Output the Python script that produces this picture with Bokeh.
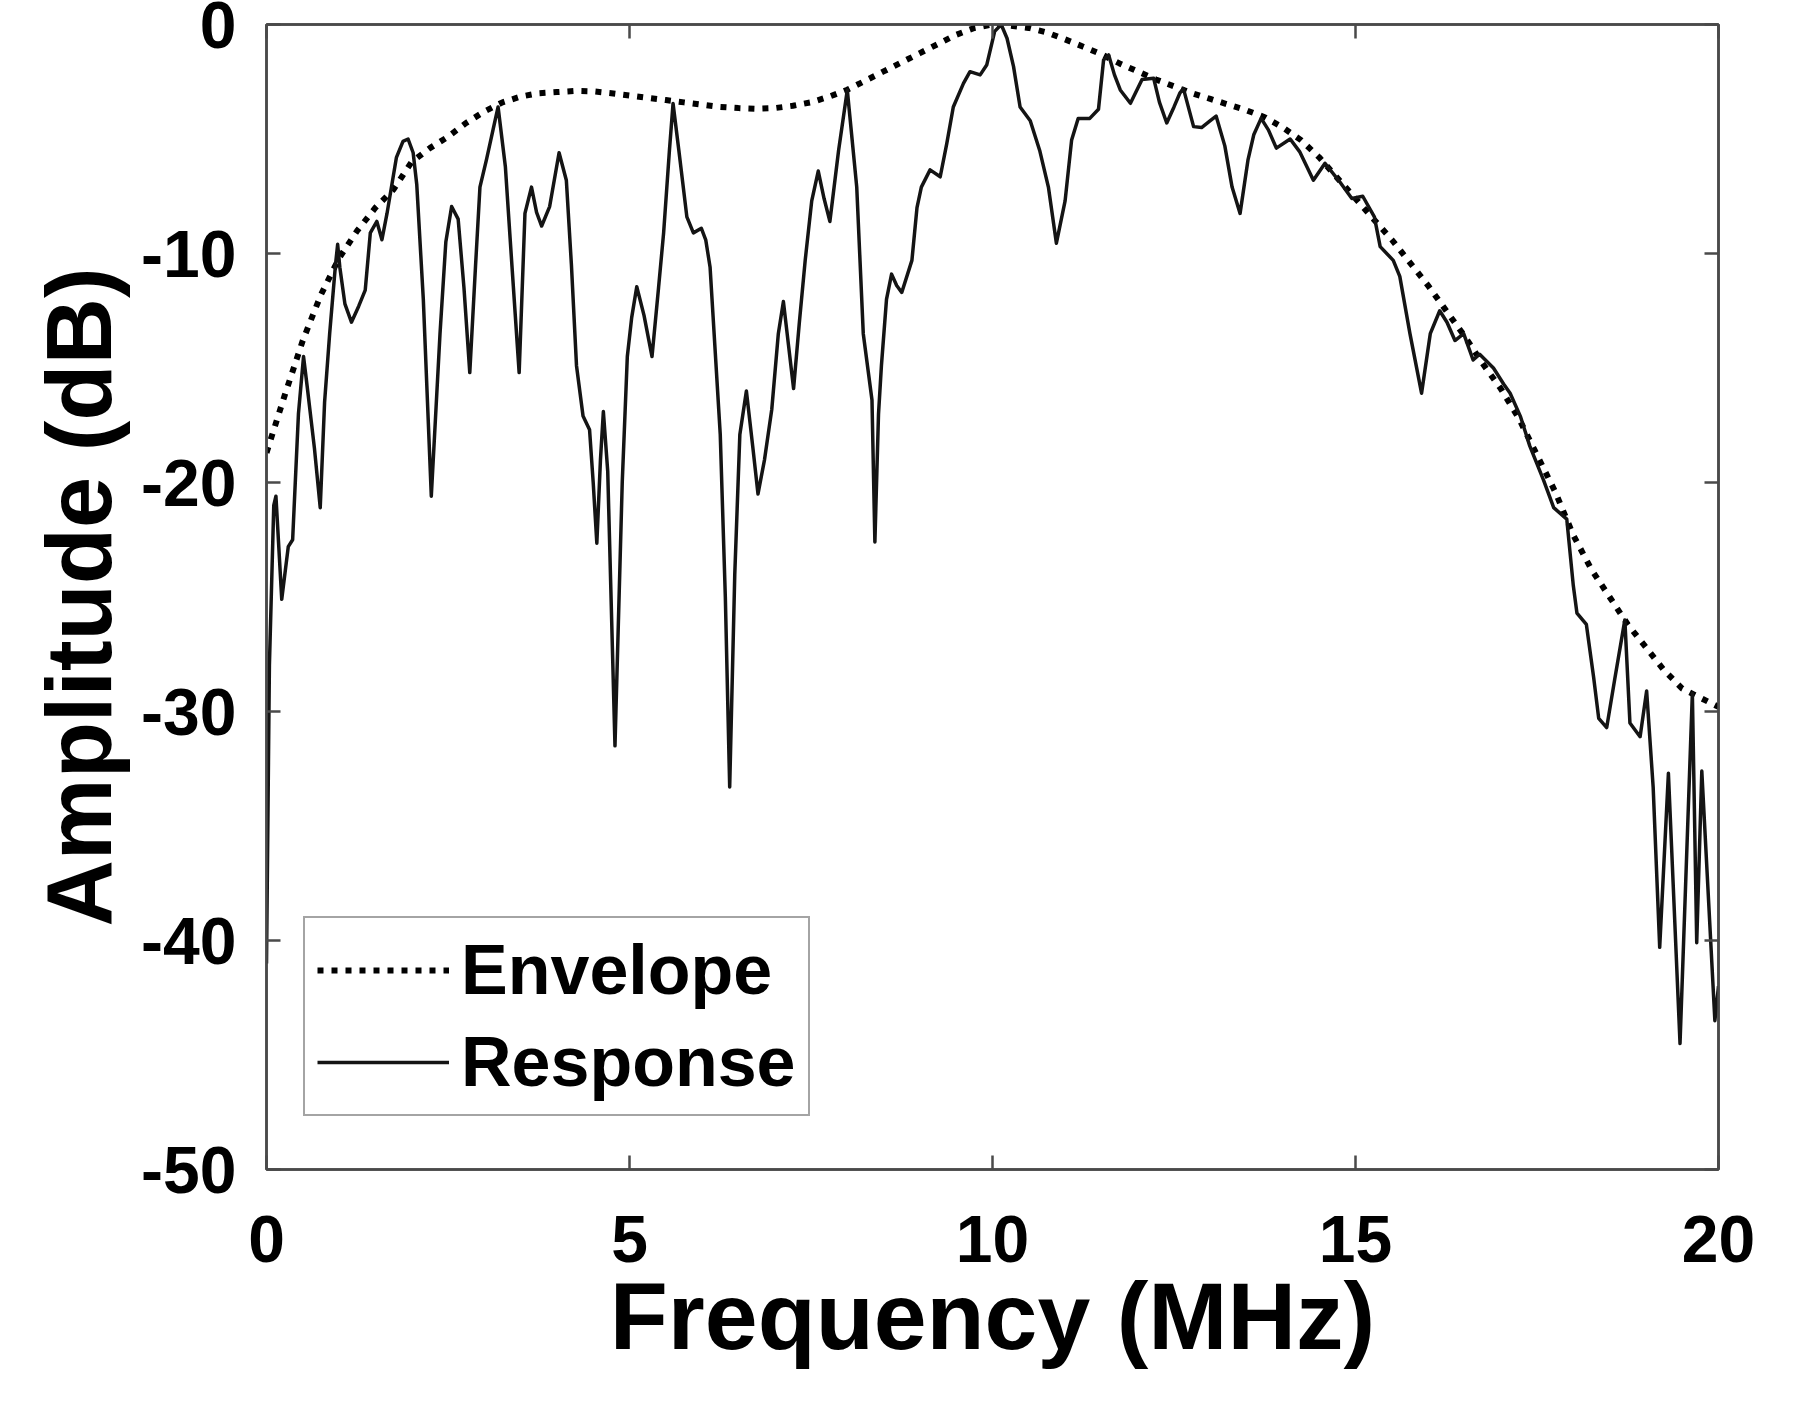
from bokeh.plotting import figure
from bokeh.models import Range1d, LinearAxis, FixedTicker, CustomJSTickFormatter, Legend, LegendItem
from bokeh.embed import file_html
from bokeh.resources import INLINE

# ---- data ----
env_f = [0.0, 0.25, 0.5, 0.75, 1.0, 1.25, 1.5, 1.75, 2.0, 2.25, 2.5, 2.75, 3.0, 3.25, 3.5, 3.75,
         4.0, 4.25, 4.5, 4.75, 5.0, 5.25, 5.5, 5.75, 6.0, 6.25, 6.5, 6.75, 7.0, 7.25, 7.5, 7.75,
         8.0, 8.25, 8.5, 8.75, 9.0, 9.25, 9.5, 9.75, 10.0, 10.25, 10.5, 10.75, 11.0, 11.25, 11.5,
         11.75, 12.0, 12.25, 12.5, 12.75, 13.0, 13.25, 13.5, 13.75, 14.0, 14.25, 14.5, 14.75, 15.0,
         15.25, 15.5, 15.75, 16.0, 16.25, 16.5, 16.75, 17.0, 17.25, 17.5, 17.75, 18.0, 18.25, 18.5,
         18.75, 19.0, 19.25, 19.5, 19.75, 20.0]
env_db = [-18.7, -16.2, -13.8, -11.8, -10.2, -9.0, -8.0, -7.2, -6.0, -5.4, -4.9, -4.3, -3.8, -3.4,
          -3.15, -3.0, -2.95, -2.9, -2.92, -3.0, -3.1, -3.2, -3.3, -3.4, -3.5, -3.6, -3.65, -3.68,
          -3.65, -3.55, -3.4, -3.15, -2.85, -2.45, -2.05, -1.65, -1.25, -0.85, -0.45, -0.15, 0.0,
          -0.05, -0.15, -0.35, -0.65, -0.97, -1.3, -1.7, -2.05, -2.4, -2.7, -3.0, -3.25, -3.5, -3.75,
          -4.05, -4.5, -5.05, -5.8, -6.7, -7.6, -8.5, -9.4, -10.4, -11.4, -12.5, -13.6, -14.8, -15.9,
          -17.2, -18.8, -20.4, -22.3, -23.8, -25.0, -26.2, -27.2, -28.2, -29.0, -29.4, -29.8]

resp_f = [0.0, 0.04, 0.10, 0.13, 0.21, 0.30, 0.36, 0.44, 0.51, 0.56, 0.66, 0.74, 0.80, 0.87, 0.95,
          0.98, 1.01, 1.08, 1.17, 1.27, 1.36, 1.43, 1.52, 1.59, 1.66, 1.79, 1.88, 1.95, 2.02, 2.07,
          2.16, 2.27, 2.39, 2.47, 2.55, 2.64, 2.72, 2.80, 2.88, 2.94, 3.03, 3.12, 3.19, 3.29, 3.38,
          3.48, 3.56, 3.65, 3.72, 3.79, 3.90, 4.03, 4.13, 4.20, 4.27, 4.36, 4.45, 4.50, 4.55, 4.60,
          4.64, 4.70, 4.80, 4.90, 4.97, 5.03, 5.10, 5.20, 5.31, 5.40, 5.47, 5.55, 5.60, 5.68, 5.79,
          5.88, 5.99, 6.05, 6.11, 6.25, 6.32, 6.38, 6.45, 6.52, 6.61, 6.70, 6.77, 6.86, 6.96, 7.05,
          7.12, 7.19, 7.26, 7.34, 7.42, 7.51, 7.60, 7.68, 7.76, 7.88, 8.00, 8.13, 8.22, 8.34, 8.38,
          8.43, 8.47, 8.54, 8.61, 8.68, 8.75, 8.89, 8.96, 9.02, 9.14, 9.28, 9.37, 9.46, 9.60, 9.69,
          9.83, 9.92, 10.03, 10.12, 10.20, 10.29, 10.38, 10.52, 10.65, 10.77, 10.88, 11.00, 11.09,
          11.18, 11.34, 11.46, 11.53, 11.60, 11.68, 11.76, 11.90, 12.06, 12.22, 12.30, 12.40, 12.50,
          12.58, 12.63, 12.77, 12.88, 13.00, 13.08, 13.20, 13.30, 13.41, 13.52, 13.60, 13.70, 13.80,
          13.91, 14.10, 14.23, 14.42, 14.58, 14.78, 14.95, 15.10, 15.26, 15.34, 15.52, 15.61, 15.75,
          15.91, 16.03, 16.16, 16.26, 16.37, 16.49, 16.62, 16.71, 16.90, 17.04, 17.13, 17.27, 17.40,
          17.59, 17.73, 17.91, 18.00, 18.05, 18.18, 18.28, 18.35, 18.46, 18.57, 18.71, 18.78, 18.92,
          19.01, 19.10, 19.19, 19.31, 19.47, 19.64, 19.70, 19.77, 19.95, 20.00]
resp_db = [-41.0, -28.0, -21.0, -20.6, -25.1, -22.8, -22.5, -17.0, -14.5, -15.8, -18.5, -21.1, -16.5,
           -13.5, -10.5, -9.6, -10.6, -12.2, -13.0, -12.3, -11.6, -9.1, -8.6, -9.4, -8.25, -5.8, -5.1,
           -5.0, -5.6, -7.0, -12.0, -20.6, -13.5, -9.5, -7.95, -8.5, -11.5, -15.2, -10.5, -7.1, -5.9,
           -4.6, -3.6, -6.2, -10.5, -15.2, -8.25, -7.1, -8.2, -8.8, -7.95, -5.6, -6.8, -10.5, -14.9,
           -17.1, -17.7, -20.0, -22.65, -19.0, -16.9, -19.5, -31.5, -20.0, -14.5, -12.8, -11.45,
           -12.7, -14.5, -11.5, -9.1, -5.5, -3.45, -5.5, -8.4, -9.1, -8.9, -9.4, -10.6, -17.9, -25.0,
           -33.3, -24.0, -17.9, -16.0, -18.5, -20.5, -19.0, -16.8, -13.5, -12.1, -14.0, -15.9, -13.0,
           -10.3, -7.7, -6.4, -7.6, -8.6, -5.5, -2.86, -7.1, -13.5, -16.4, -22.6, -17.0, -14.9, -12.0,
           -10.9, -11.4, -11.7, -10.3, -8.0, -7.1, -6.35, -6.65, -5.2, -3.6, -2.57, -2.06, -2.2,
           -1.77, -0.3, 0.0, -0.6, -1.84, -3.6, -4.2, -5.5, -7.1, -9.55, -7.7, -5.04, -4.1, -4.1,
           -3.7, -1.55, -1.33, -2.2, -2.86, -3.44, -2.4, -2.35, -3.4, -4.3, -3.6, -3.0, -2.8, -4.46,
           -4.5, -4.2, -4.0, -5.3, -7.1, -8.25, -5.9, -4.8, -4.1, -4.6, -5.4, -5.0, -5.55, -6.8,
           -6.06, -6.86, -7.6, -7.5, -8.4, -9.7, -10.3, -11.0, -13.5, -16.1, -13.5, -12.5, -13.0,
           -13.8, -13.5, -14.65, -14.4, -15.0, -15.7, -16.1, -17.1, -18.4, -19.9, -21.1, -21.6,
           -24.5, -25.7, -26.2, -28.5, -30.3, -30.7, -28.6, -26.0, -30.5, -31.1, -29.1, -33.3, -40.3,
           -32.7, -44.5, -29.2, -40.1, -32.6, -43.5, -42.0]

x_ticks = [0, 5, 10, 15, 20]
y_ticks = [0, -10, -20, -30, -40, -50]
x_title = "Frequency (MHz)"
y_title = "Amplitude (dB)"
series_names = ["Envelope", "Response"]

FONT = "Liberation Sans"
AX_COLOR = "#4a4a4a"

p = figure(width=1758, height=1409, x_range=Range1d(0, 20), y_range=Range1d(-50, 0),
           output_backend="svg", toolbar_location=None,
           min_border_left=266, min_border_right=40, min_border_top=24, min_border_bottom=240,
           x_axis_label=x_title, y_axis_label=y_title)
p.grid.visible = False
p.outline_line_color = AX_COLOR
p.outline_line_width = 2.5
p.background_fill_color = "white"
p.border_fill_color = "white"

plain = CustomJSTickFormatter(code="return tick.toString()")
p.xaxis.ticker = FixedTicker(ticks=x_ticks)
p.yaxis.ticker = FixedTicker(ticks=y_ticks)
p.xaxis.formatter = plain
p.yaxis.formatter = plain

for ax in (p.xaxis[0], p.yaxis[0]):
    ax.axis_line_color = AX_COLOR
    ax.axis_line_width = 2.5
    ax.major_tick_line_color = AX_COLOR
    ax.major_tick_line_width = 2.5
    ax.major_tick_in = 14
    ax.major_tick_out = 0
    ax.minor_tick_line_color = None
    ax.major_label_text_font = FONT
    ax.major_label_text_font_style = "bold"
    ax.major_label_text_font_size = "66px"
    ax.major_label_text_color = "black"
    ax.axis_label_text_font = FONT
    ax.axis_label_text_font_style = "bold"
    ax.axis_label_text_color = "black"

p.xaxis.major_label_standoff = 46
p.xaxis.axis_label_text_font_size = "95px"
p.xaxis.axis_label_standoff = -2
p.yaxis.major_label_standoff = 30
p.yaxis.axis_label_text_font_size = "92px"
p.yaxis.axis_label_standoff = 8

blank = CustomJSTickFormatter(code="return ''")
for ticks, side in ((x_ticks, "above"), (y_ticks, "right")):
    ax = LinearAxis(ticker=FixedTicker(ticks=ticks), formatter=blank)
    ax.axis_line_color = AX_COLOR
    ax.axis_line_width = 2.5
    ax.major_tick_line_color = AX_COLOR
    ax.major_tick_line_width = 2.5
    ax.major_tick_in = 14
    ax.major_tick_out = 0
    ax.minor_tick_line_color = None
    ax.major_label_standoff = 0
    p.add_layout(ax, side)

r_env = p.line(env_f, env_db, line_color="black", line_width=6, line_dash="6 8", line_cap="butt")
r_resp = p.line(resp_f, resp_db, line_color="#141414", line_width=3.5, line_join="round")

legend = Legend(items=[LegendItem(label=series_names[0], renderers=[r_env]),
                       LegendItem(label=series_names[1], renderers=[r_resp])],
                location=(37, 53))
legend.label_text_font = FONT
legend.label_text_font_style = "bold"
legend.label_text_font_size = "70px"
legend.label_text_color = "black"
legend.glyph_width = 132
legend.glyph_height = 80
legend.label_height = 80
legend.label_standoff = 12
legend.padding = 12
legend.spacing = 12
legend.margin = 0
legend.border_line_color = AX_COLOR
legend.border_line_width = 2.5
legend.background_fill_color = "white"
legend.background_fill_alpha = 1.0
p.add_layout(legend, "center")

open("out.html", "w").write(file_html(p, INLINE))
